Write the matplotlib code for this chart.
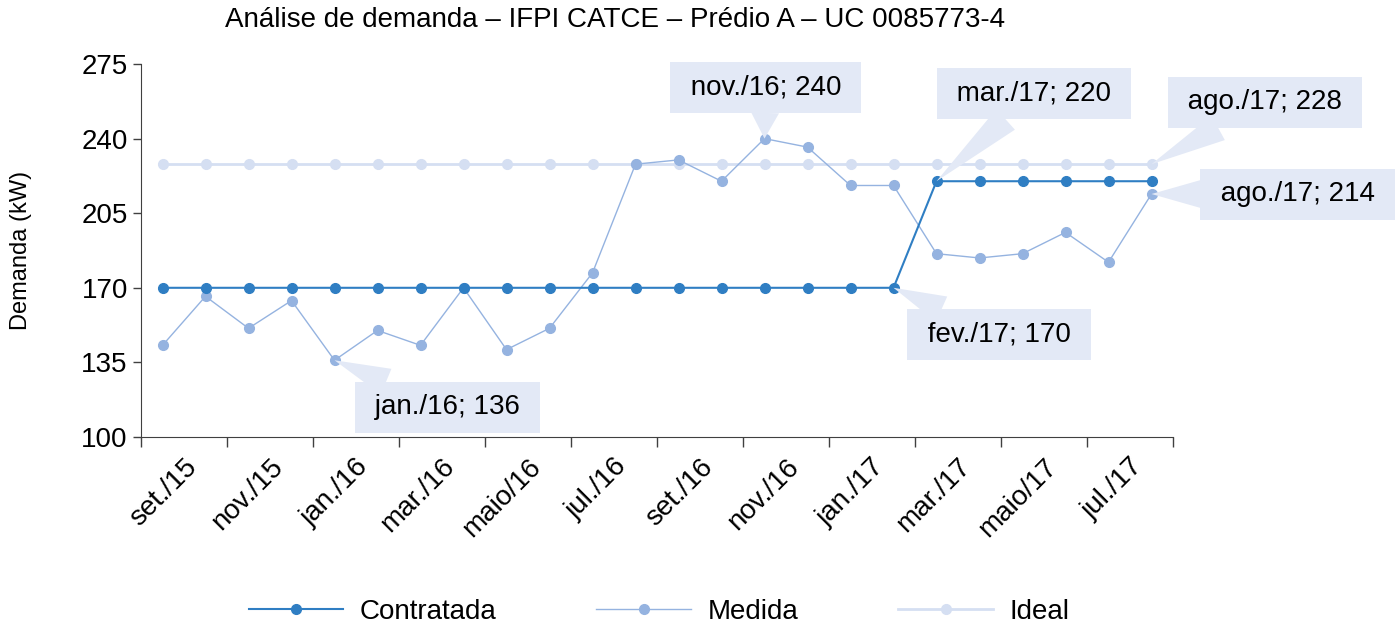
import matplotlib
matplotlib.use('Agg')
import matplotlib.pyplot as plt
import matplotlib.transforms as mtransforms

plt.rcParams['font.family'] = ['Liberation Sans', 'DejaVu Sans']

# Meses de set./15 a ago./17
months = ['set./15', 'out./15', 'nov./15', 'dez./15', 'jan./16', 'fev./16', 'mar./16', 'abr./16',
          'maio/16', 'jun./16', 'jul./16', 'ago./16', 'set./16', 'out./16', 'nov./16', 'dez./16',
          'jan./17', 'fev./17', 'mar./17', 'abr./17', 'maio/17', 'jun./17', 'jul./17', 'ago./17']
contratada = [170] * 18 + [220] * 6
medida = [143, 166, 151, 164, 136, 150, 143, 170, 141, 151, 177, 228, 230, 220, 240, 236,
          218, 218, 186, 184, 186, 196, 182, 214]
ideal = [228] * 24

# rótulos de dados: (série, índice, texto, posição da caixa em coords de dados)
callouts = [
    (medida, 4, 'jan./16; 136', (6.63, 114)),
    (medida, 14, 'nov./16; 240', (14.03, 264)),
    (contratada, 18, 'mar./17; 220', (20.27, 261)),
    (ideal, 23, 'ago./17; 228', (25.64, 257)),
    (medida, 23, 'ago./17; 214', (26.4, 214)),
    (contratada, 17, 'fev./17; 170', (19.45, 148)),
]

c_contr = '#2F7EC3'
c_med = '#95B3E0'
c_ideal = '#D5DFF2'
c_box = '#E3E9F6'

fig = plt.figure(figsize=(13.97, 6.29), dpi=100)
ax = fig.add_axes([141 / 1397, 1 - 437 / 629, 1032 / 1397, 373 / 629])

x = list(range(len(months)))
ax.plot(x, ideal, color=c_ideal, lw=2, marker='o', ms=7, label='Ideal', zorder=2)
ax.plot(x, contratada, color=c_contr, lw=1.5, marker='o', ms=7, label='Contratada', zorder=4)
ax.plot(x, medida, color=c_med, lw=1, marker='o', ms=7, label='Medida', zorder=3)

ax.set_xlim(-0.5, 23.5)
ax.set_ylim(100, 275)
ax.set_yticks(range(100, 276, 35))
ax.tick_params(axis='y', labelsize=20, length=6, color='#404040', width=1)

ax.set_xticks([i - 0.5 for i in range(0, 25, 2)])
ax.set_xticklabels([])
ax.tick_params(axis='x', which='major', length=7, color='#404040', width=1)
ax.set_xticks(x[::2], minor=True)
ax.set_xticklabels(months[::2], minor=True, rotation=45, ha='right', rotation_mode='anchor',
                   fontsize=20)
ax.tick_params(axis='x', which='minor', length=0, pad=12)
offset = mtransforms.ScaledTranslation(21 / 100, 0, fig.dpi_scale_trans)
for lbl in ax.get_xticklabels(minor=True):
    lbl.set_transform(lbl.get_transform() + offset)

for s in ['top', 'right']:
    ax.spines[s].set_visible(False)
for s in ['left', 'bottom']:
    ax.spines[s].set_color('#404040')

ax.set_ylabel('Demanda (kW)', fontsize=17)
ax.yaxis.set_label_coords((32 - 141) / 1032, 0.5)
fig.text(615 / 1397, 1 - 20 / 629, 'Análise de demanda – IFPI CATCE – Prédio A – UC 0085773-4',
         ha='center', va='center', fontsize=20)

for series, i, txt, pos in callouts:
    ax.annotate(' ' + txt + ' ', xy=(i, series[i]), xytext=pos, textcoords='data',
                ha='center', va='center', fontsize=20, annotation_clip=False, zorder=6,
                bbox=dict(boxstyle='square,pad=0.45', fc=c_box, ec='none'),
                arrowprops=dict(arrowstyle='wedge,tail_width=1.0,shrink_factor=0.5', fc=c_box,
                                ec='none', shrinkA=0, shrinkB=0))

handles, labels = ax.get_legend_handles_labels()
order = [1, 2, 0]
fig.legend([handles[k] for k in order], [labels[k] for k in order], loc='center',
           bbox_to_anchor=(659 / 1397, 1 - 612 / 629), ncol=3, frameon=False, fontsize=20,
           handlelength=3.4, handletextpad=0.6, columnspacing=3.6)

fig.savefig('out.png', dpi=100)
